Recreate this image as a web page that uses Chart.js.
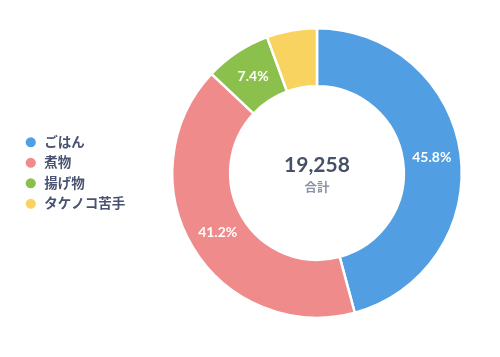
<!DOCTYPE html>
<html><head><meta charset="utf-8">
<script src="https://cdn.jsdelivr.net/npm/chart.js@4"></script>
<style>html,body{margin:0;padding:0;background:#fff;}#wrap{position:relative;width:500px;height:357px;}</style>
</head><body><div id="wrap"><canvas id="c" width="500" height="357"></canvas></div>
<script>
const categories = ['ごはん', '煮物', '揚げ物', 'タケノコ苦手'];
const counts = [8820, 7934, 1425, 1079];
const colors = ['#519fe2', '#ef8b8a', '#8cc04c', '#f8d35f'];
const totalLabel = '合計';

const FONT = "Lato, 'Noto Sans CJK JP', sans-serif";
const total = counts.reduce((a, b) => a + b, 0);

const legendWidthPlugin = {
  id: 'legendWidth',
  beforeLayout(chart) {
    const lg = chart.legend;
    if (lg && !lg._patched) {
      const f = lg.fit.bind(lg);
      lg.fit = function () { f(); this.width = 154; };
      lg._patched = true;
    }
  }
};

const labelPlugin = {
  id: 'labels',
  afterDatasetsDraw(chart) {
    const ctx = chart.ctx;
    const meta = chart.getDatasetMeta(0);
    ctx.save();
    ctx.textAlign = 'center';
    ctx.textBaseline = 'middle';
    meta.data.forEach((arc, i) => {
      const pct = counts[i] / total * 100;
      if (pct < 7) return;
      const p = arc.tooltipPosition();
      ctx.fillStyle = '#ffffff';
      ctx.font = "bold 14px " + FONT;
      ctx.fillText(pct.toFixed(1) + '%', p.x, p.y);
    });
    const a = meta.data[0];
    ctx.fillStyle = '#475069';
    ctx.font = "bold 21px " + FONT;
    ctx.fillText(total.toLocaleString('en-US'), a.x, a.y - 8);
    ctx.fillStyle = '#8b91a7';
    ctx.font = "bold 12.5px " + FONT;
    ctx.fillText(totalLabel, a.x, a.y + 15);
    ctx.restore();
  }
};

new Chart(document.getElementById('c'), {
  type: 'doughnut',
  data: {
    labels: categories,
    datasets: [{
      data: counts,
      backgroundColor: colors,
      borderColor: '#ffffff',
      borderWidth: 2.5,
      hoverOffset: 0
    }]
  },
  options: {
    responsive: false,
    animation: false,
    cutout: '60%',
    layout: { padding: { top: 26, bottom: 37, left: 17, right: 37 } },
    plugins: {
      tooltip: { enabled: false },
      legend: {
        position: 'left',
        labels: {
          usePointStyle: true,
          pointStyle: 'circle',
          boxWidth: 14,
          boxHeight: 9,
          padding: 7,
          color: '#4a5272',
          font: { family: FONT, size: 13.5, weight: 'bold' }
        }
      }
    }
  },
  plugins: [legendWidthPlugin, labelPlugin]
});
</script></body></html>
